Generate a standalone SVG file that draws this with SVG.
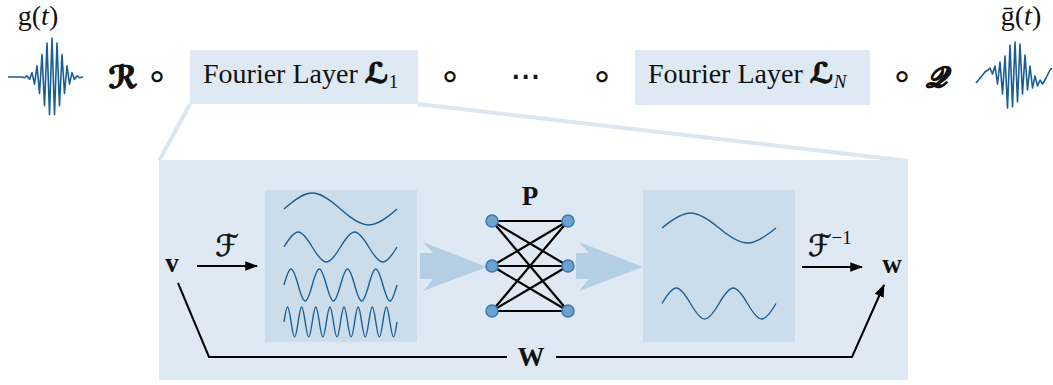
<svg xmlns="http://www.w3.org/2000/svg" width="1053" height="385" viewBox="0 0 1053 385">
<defs>
<style>
.t{font-family:"Liberation Serif","DejaVu Serif",serif;fill:#111;}
.s{font-family:"DejaVu Sans","DejaVu Serif",serif;}
.op{font-family:"DejaVu Sans",sans-serif;fill:#111;}
.heavy{stroke:#111;stroke-width:1.1;paint-order:stroke;}
.med{stroke:#111;stroke-width:0.6;}
.box{fill:#dfe9f3;}
.inner{fill:#cbdcea;}
.wave{fill:none;stroke:#1c5f97;stroke-width:1.4;}
.sig{fill:none;stroke:#1b5e96;stroke-width:1.6;stroke-linejoin:round;}
.edge{stroke:#000;stroke-width:2.2;}
.nn{fill:#6fa1cf;stroke:#3b78b0;stroke-width:1.5;}
.conn{fill:none;stroke:#000;stroke-width:2;}
.big{fill:#b4cfe3;}
.zoomline{stroke:#dbe6f1;stroke-width:4;fill:none;}
</style>
<marker id="ah" viewBox="0 0 12 9" refX="11" refY="4.5" markerWidth="6.5" markerHeight="4.8" orient="auto" markerUnits="strokeWidth"><path d="M0,0 L12,4.5 L0,9 z" fill="#000"/></marker>
</defs>
<rect width="1053" height="385" fill="#fff"/>

<!-- zoom trapezoid lines -->
<g id="zoom-lines">
<line class="zoomline" x1="190" y1="104" x2="159" y2="161"/>
<line class="zoomline" x1="418" y1="104" x2="908" y2="161"/>
</g>

<!-- top row -->
<g id="signal-in">
<text class="t" x="38" y="25" font-size="28" text-anchor="middle">g(<tspan font-style="italic">t</tspan>)</text>
<path class="sig" d="M8,77 L22,77 L24.5,77.6 L27,75.8 L29.5,79.4 L32,72.7 L34.5,84.1 L37,65.8 L39.5,93.4 L42,54.6 L44.5,105.6 L47,43 L49.5,114.7 L52,38 L54.5,114.7 L57,43 L59.5,105.6 L62,54.6 L64.5,93.4 L67,65.8 L69.5,84.1 L72,72.7 L74.5,79.4 L77,75.8 L79.5,77.6 L83,77"/>
</g>
<g id="op-R">
<text class="s heavy" x="123" y="88" font-size="31" font-weight="bold" font-style="italic" text-anchor="middle" fill="#111">ℛ</text>
<text class="op" x="157" y="88" font-size="36" text-anchor="middle">∘</text>
</g>
<g id="layer-1">
<rect class="box" x="190" y="50" width="228" height="54"/>
<text class="t" x="203" y="83" font-size="28">Fourier Layer <tspan class="s heavy" font-weight="bold">ℒ</tspan><tspan font-size="19" dy="5">1</tspan></text>
</g>
<g id="ellipsis">
<text class="op" x="450" y="88" font-size="36" text-anchor="middle">∘</text>
<text class="op med" x="526" y="86" font-size="30" text-anchor="middle">⋯</text>
<text class="op" x="602" y="88" font-size="36" text-anchor="middle">∘</text>
</g>
<g id="layer-N">
<rect class="box" x="635" y="50" width="235" height="55"/>
<text class="t" x="648" y="83" font-size="28">Fourier Layer <tspan class="s heavy" font-weight="bold">ℒ</tspan><tspan font-size="19" font-style="italic" dy="5">N</tspan></text>
</g>
<g id="op-Q">
<text class="op" x="902" y="88" font-size="36" text-anchor="middle">∘</text>
<text class="s heavy" x="936" y="87" font-size="29" font-weight="bold" font-style="italic" text-anchor="middle" fill="#111">𝒬</text>
</g>
<g id="signal-out">
<text class="t" x="1021" y="25" font-size="28" text-anchor="middle">ḡ(<tspan font-style="italic">t</tspan>)</text>
<path class="sig" d="M976,83 L981,77 L985,72 L988,70 L990,68 L992.5,74 L995,66 L997.5,84 L1000,62 L1002.5,94 L1005,56 L1007.5,108 L1010,45 L1012.5,107 L1015,42 L1017.5,102 L1020,44 L1022.5,94 L1025,55 L1027.5,90 L1030,66 L1032.5,88 L1035,76 L1037.5,86 L1040,80 L1042.5,84 L1046,78 L1050,70 L1052,68"/>
</g>

<!-- detail panel -->
<g id="panel">
<rect class="box" x="159" y="160" width="749" height="220"/>
</g>

<g id="spectrum-in">
<rect class="inner" x="265" y="190" width="152" height="152"/>
<path class="wave" d="M284,209 C308,187.7 316.5,187.7 340.5,209 S373,230.3 397,209"/>
<path class="wave" d="M284,247 C296,227 300.3,227 312.25,247 S328.5,267 340.5,247 S356.8,227 368.75,247 S385,267 397,247"/>
<path class="wave" d="M284,285 C290,263.7 292.1,263.7 298.1,285 S306.3,306.3 312.25,285 S320.4,263.7 326.4,285 S334.5,306.3 340.5,285 S348.6,263.7 354.6,285 S362.8,306.3 368.75,285 S376.9,263.7 382.9,285 S391,306.3 397,285"/>
<path class="wave" d="M284,322 C287,302 288.07,302 291.06,322 S295.13,342 298.13,322 S302.2,302 305.19,322 S309.26,342 312.25,322 S316.32,302 319.31,322 S323.38,342 326.38,322 S330.45,302 333.44,322 S337.51,342 340.5,322 S344.57,302 347.56,322 S351.63,342 354.63,322 S358.7,302 361.69,322 S365.76,342 368.75,322 S372.82,302 375.81,322 S379.88,342 382.88,322 S386.95,302 389.94,322 S394.01,342 397,322"/>
</g>

<g id="arrow-1">
<polygon class="big" points="420,253 433,253 423,242 487,267 423,291 433,279 420,279"/>
</g>

<g id="mlp-P">
<text class="t" x="530" y="205" font-size="27" font-weight="bold" text-anchor="middle">P</text>
<g>
<line class="edge" x1="492" y1="221" x2="568" y2="221"/>
<line class="edge" x1="492" y1="221" x2="568" y2="266"/>
<line class="edge" x1="492" y1="221" x2="568" y2="311"/>
<line class="edge" x1="492" y1="266" x2="568" y2="221"/>
<line class="edge" x1="492" y1="266" x2="568" y2="266"/>
<line class="edge" x1="492" y1="266" x2="568" y2="311"/>
<line class="edge" x1="492" y1="311" x2="568" y2="221"/>
<line class="edge" x1="492" y1="311" x2="568" y2="266"/>
<line class="edge" x1="492" y1="311" x2="568" y2="311"/>
</g>
<circle class="nn" cx="492" cy="221" r="6"/>
<circle class="nn" cx="492" cy="266" r="6"/>
<circle class="nn" cx="492" cy="311" r="6"/>
<circle class="nn" cx="568" cy="221" r="6"/>
<circle class="nn" cx="568" cy="266" r="6"/>
<circle class="nn" cx="568" cy="311" r="6"/>
</g>

<g id="arrow-2">
<polygon class="big" points="576,253 589,253 579,242 643,267 579,291 589,279 576,279"/>
</g>

<g id="spectrum-out">
<rect class="inner" x="643" y="190" width="152" height="152"/>
<path class="wave" d="M662,228 C686.2,208 694.8,208 719,228 S751.8,248 776,228"/>
<path class="wave" d="M662,303.5 C674.1,282.8 678.4,282.8 690.5,303.5 S706.9,324.2 719,303.5 S735.4,282.8 747.5,303.5 S763.9,324.2 776,303.5"/>
</g>

<g id="node-v">
<text class="t" x="172" y="272" font-size="27" font-weight="bold" text-anchor="middle">v</text>
</g>
<g id="node-w">
<text class="t" x="892" y="273" font-size="27" font-weight="bold" text-anchor="middle">w</text>
</g>

<!-- connectors -->
<g id="connectors">
<path class="conn" d="M197,266 L257,266" marker-end="url(#ah)"/>
<text class="s med" x="227" y="256" font-size="30" font-style="italic" text-anchor="middle" fill="#111">ℱ</text>
<path class="conn" d="M802,267 L862,267" marker-end="url(#ah)"/>
<text class="s med" x="808" y="256" font-size="30" font-style="italic" fill="#111">ℱ<tspan class="t" font-size="19" font-style="normal" stroke-width="0" dy="-12">−1</tspan></text>
<path class="conn" d="M178,283 L209,357 L507,357 M556,357 L852,357 L884,285" marker-end="url(#ah)"/>
<text class="t" x="531" y="366" font-size="27" font-weight="bold" text-anchor="middle">W</text>
</g>
</svg>
